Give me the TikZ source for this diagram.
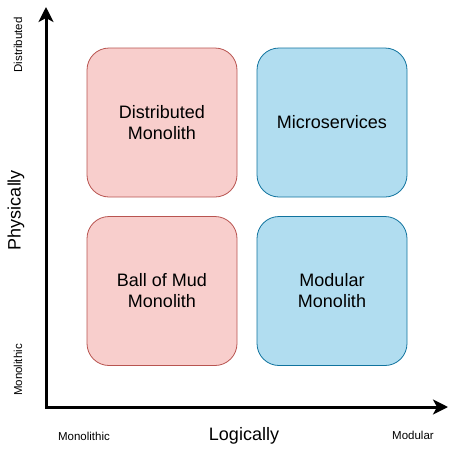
\documentclass[tikz,border=0pt]{standalone}
\usepackage{fontspec}
\setmainfont{Liberation Sans}
\usetikzlibrary{arrows.meta,positioning}
\definecolor{redfill}{HTML}{F8CECC}
\definecolor{redline}{HTML}{B85450}
\definecolor{bluefill}{HTML}{B1DDF0}
\definecolor{blueline}{HTML}{10739E}
\tikzset{
  quad/.style={rectangle, rounded corners=22pt, minimum width=150pt, minimum height=149pt,
    align=center, font=\fontsize{18}{21}\selectfont, line width=0.8pt},
  mono/.style={quad, fill=redfill, draw=redline},
  micro/.style={quad, fill=bluefill, draw=blueline},
  tick/.style={font=\fontsize{11.5}{13}\selectfont},
  axis/.style={font=\fontsize{18}{21}\selectfont}
}
\begin{document}
\begin{tikzpicture}[x=1pt,y=-1pt]
        \useasboundingbox (0,0) rectangle (455,453);
        % axes
        \coordinate (origin) at (46,407);
        \coordinate (ytip) at (46,7);
        \coordinate (xtip) at (448,407);
        \draw[line width=3pt, {Stealth[length=15pt,width=15pt,inset=4pt]}-{Stealth[length=15pt,width=15pt,inset=4pt]}]
            (ytip) -- (origin) -- (xtip);
        % quadrants
        \node[mono] (distmono) at (162,122.5) {Distributed\\Monolith};
        \node[micro] (micro) at (332,122.5) {Microservices};
        \node[mono] (mudmono) at (162,291) {Ball of Mud\\Monolith};
        \node[micro] (modmono) at (332,291) {Modular\\Monolith};
        % labels
        \node[tick, rotate=90] (ydist) at (18,45) {Distributed};
        \node[tick, rotate=90] (ymono) at (18,370) {Monolithic};
        \node[tick] (xmono) at (84,436) {Monolithic};
        \node[tick] (xmod) at (413,435) {Modular};
        \node[axis, rotate=90] (ylabel) at (16,210) {Physically};
        \node[axis] (xlabel) at (244,436) {Logically};
\end{tikzpicture}
\end{document}
